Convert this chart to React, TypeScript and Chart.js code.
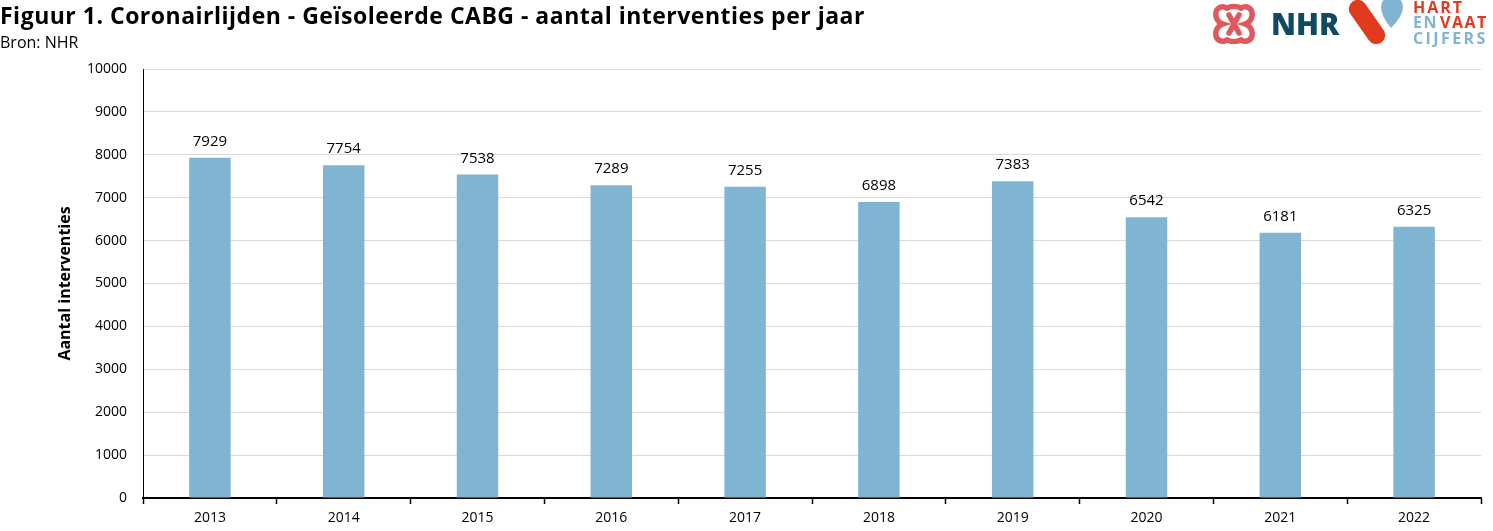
import React, { useEffect, useRef } from "react";
import { Chart, registerables } from "chart.js";

Chart.register(...registerables);

const years = ["2013", "2014", "2015", "2016", "2017", "2018", "2019", "2020", "2021", "2022"];
const interventions = [7929, 7754, 7538, 7289, 7255, 6898, 7383, 6542, 6181, 6325];
const yTicks = [0, 1000, 2000, 3000, 4000, 5000, 6000, 7000, 8000, 9000, 10000];

const FONT = "'Open Sans', 'Noto Sans', sans-serif";

const labelPlugin = {
  id: "valueLabels",
  afterDatasetsDraw(chart: any) {
    const ctx = chart.ctx;
    const meta = chart.getDatasetMeta(0);
    ctx.save();
    ctx.font = `15px ${FONT}`;
    ctx.fillStyle = "#000";
    ctx.textAlign = "center";
    ctx.textBaseline = "alphabetic";
    meta.data.forEach((bar: any, i: number) => {
      ctx.fillText(String(interventions[i]), bar.x, bar.y - 12);
    });
    ctx.restore();
  },
};

function Logo() {
  return (
    <svg width="290" height="48" style={{ position: "absolute", left: 1203, top: 0 }} viewBox="0 0 290 48">
      <g fill="none" stroke="#e0585e" strokeWidth="5.5" strokeLinecap="round">
        <path d="M24 8 C12 2 8 20 20 24 C8 28 12 46 24 40" />
        <path d="M38 8 C50 2 54 20 42 24 C54 28 50 46 38 40" />
        <path d="M24 8 C28 6 34 6 38 8" />
        <path d="M24 40 C28 42 34 42 38 40" />
        <path d="M26 15 L36 33" />
        <path d="M36 15 L26 33" />
      </g>
      <text x="68" y="35" fontFamily="'Open Sans', sans-serif" fontWeight="800" fontSize="30" fill="#0f4a60">NHR</text>
      <rect x="155" y="-3" width="18" height="50" rx="9" fill="#e23a1f" transform="rotate(-35 164 22)" />
      <path d="M178 7 A11 11 0 0 1 200 7 Q200 16 188 28 Q178 16 178 7 Z" fill="#7fb5d2" />
      <text x="210" y="13" fontFamily="'Open Sans', sans-serif" fontWeight="700" fontSize="16" fill="#e23a1f" letterSpacing="2">HART</text>
      <text x="210" y="28" fontFamily="'Open Sans', sans-serif" fontWeight="700" fontSize="16" fill="#7fb5d2" letterSpacing="1.5">EN</text>
      <text x="237" y="28" fontFamily="'Open Sans', sans-serif" fontWeight="700" fontSize="16" fill="#e23a1f" letterSpacing="1.5">VAAT</text>
      <text x="210" y="44" fontFamily="'Open Sans', sans-serif" fontWeight="700" fontSize="16" fill="#7fb5d2" letterSpacing="2.4">CIJFERS</text>
    </svg>
  );
}

export default function App() {
  const canvasRef = useRef<HTMLCanvasElement | null>(null);

  useEffect(() => {
    document.body.style.margin = "0";
    const chart = new Chart(canvasRef.current as HTMLCanvasElement, {
      type: "bar",
      data: {
        labels: years,
        datasets: [
          {
            data: interventions,
            backgroundColor: "#7fb5d2",
            barPercentage: 0.62,
            categoryPercentage: 0.5,
          },
        ],
      },
      options: {
        animation: false,
        responsive: false,
        maintainAspectRatio: false,
        layout: { padding: { left: 0, right: 12, top: 69, bottom: 0 } },
        plugins: { legend: { display: false }, tooltip: { enabled: false } },
        scales: {
          x: {
            offset: true,
            grid: {
              display: true,
              offset: true,
              drawOnChartArea: false,
              drawTicks: true,
              tickLength: 6,
              tickColor: "#000",
              tickWidth: 1.5,
            },
            border: { display: true, color: "#000", width: 2 },
            ticks: { color: "#000", font: { family: FONT, size: 14 }, padding: 6, maxRotation: 0 },
            afterFit(scale: any) {
              scale.height = 33;
            },
          },
          y: {
            min: 0,
            max: 10000,
            afterBuildTicks(scale: any) {
              scale.ticks = yTicks.map((v) => ({ value: v }));
            },
            grid: { color: "#d9d9d9", drawTicks: false, lineWidth: 1 },
            border: { display: true, color: "#000", width: 1 },
            ticks: {
              color: "#000",
              font: { family: FONT, size: 14 },
              padding: 16,
              callback: (v: any) => String(v),
            },
            title: {
              display: true,
              text: "Aantal interventies",
              color: "#000",
              font: { family: FONT, size: 16, weight: "bold" },
              padding: { top: 56, bottom: 0 },
            },
            afterFit(scale: any) {
              scale.width = 143;
            },
          },
        },
      },
      plugins: [labelPlugin],
    } as any);
    return () => chart.destroy();
  }, []);

  return (
    <div style={{ position: "relative", width: 1493, height: 531, background: "#fff", fontFamily: FONT }}>
      <canvas ref={canvasRef} width={1493} height={531} style={{ position: "absolute", left: 0, top: 0 }} />
      <div style={{ position: "absolute", left: 0, top: -1, fontSize: 23, fontWeight: 700, color: "#000", whiteSpace: "nowrap", lineHeight: "32px", letterSpacing: "0.5px" }}>
        Figuur 1. Coronairlijden - Geïsoleerde CABG - aantal interventies per jaar
      </div>
      <div style={{ position: "absolute", left: 0, top: 31, fontSize: 16, color: "#000", whiteSpace: "nowrap", lineHeight: "22px" }}>
        Bron: NHR
      </div>
      <Logo />
    </div>
  );
}
